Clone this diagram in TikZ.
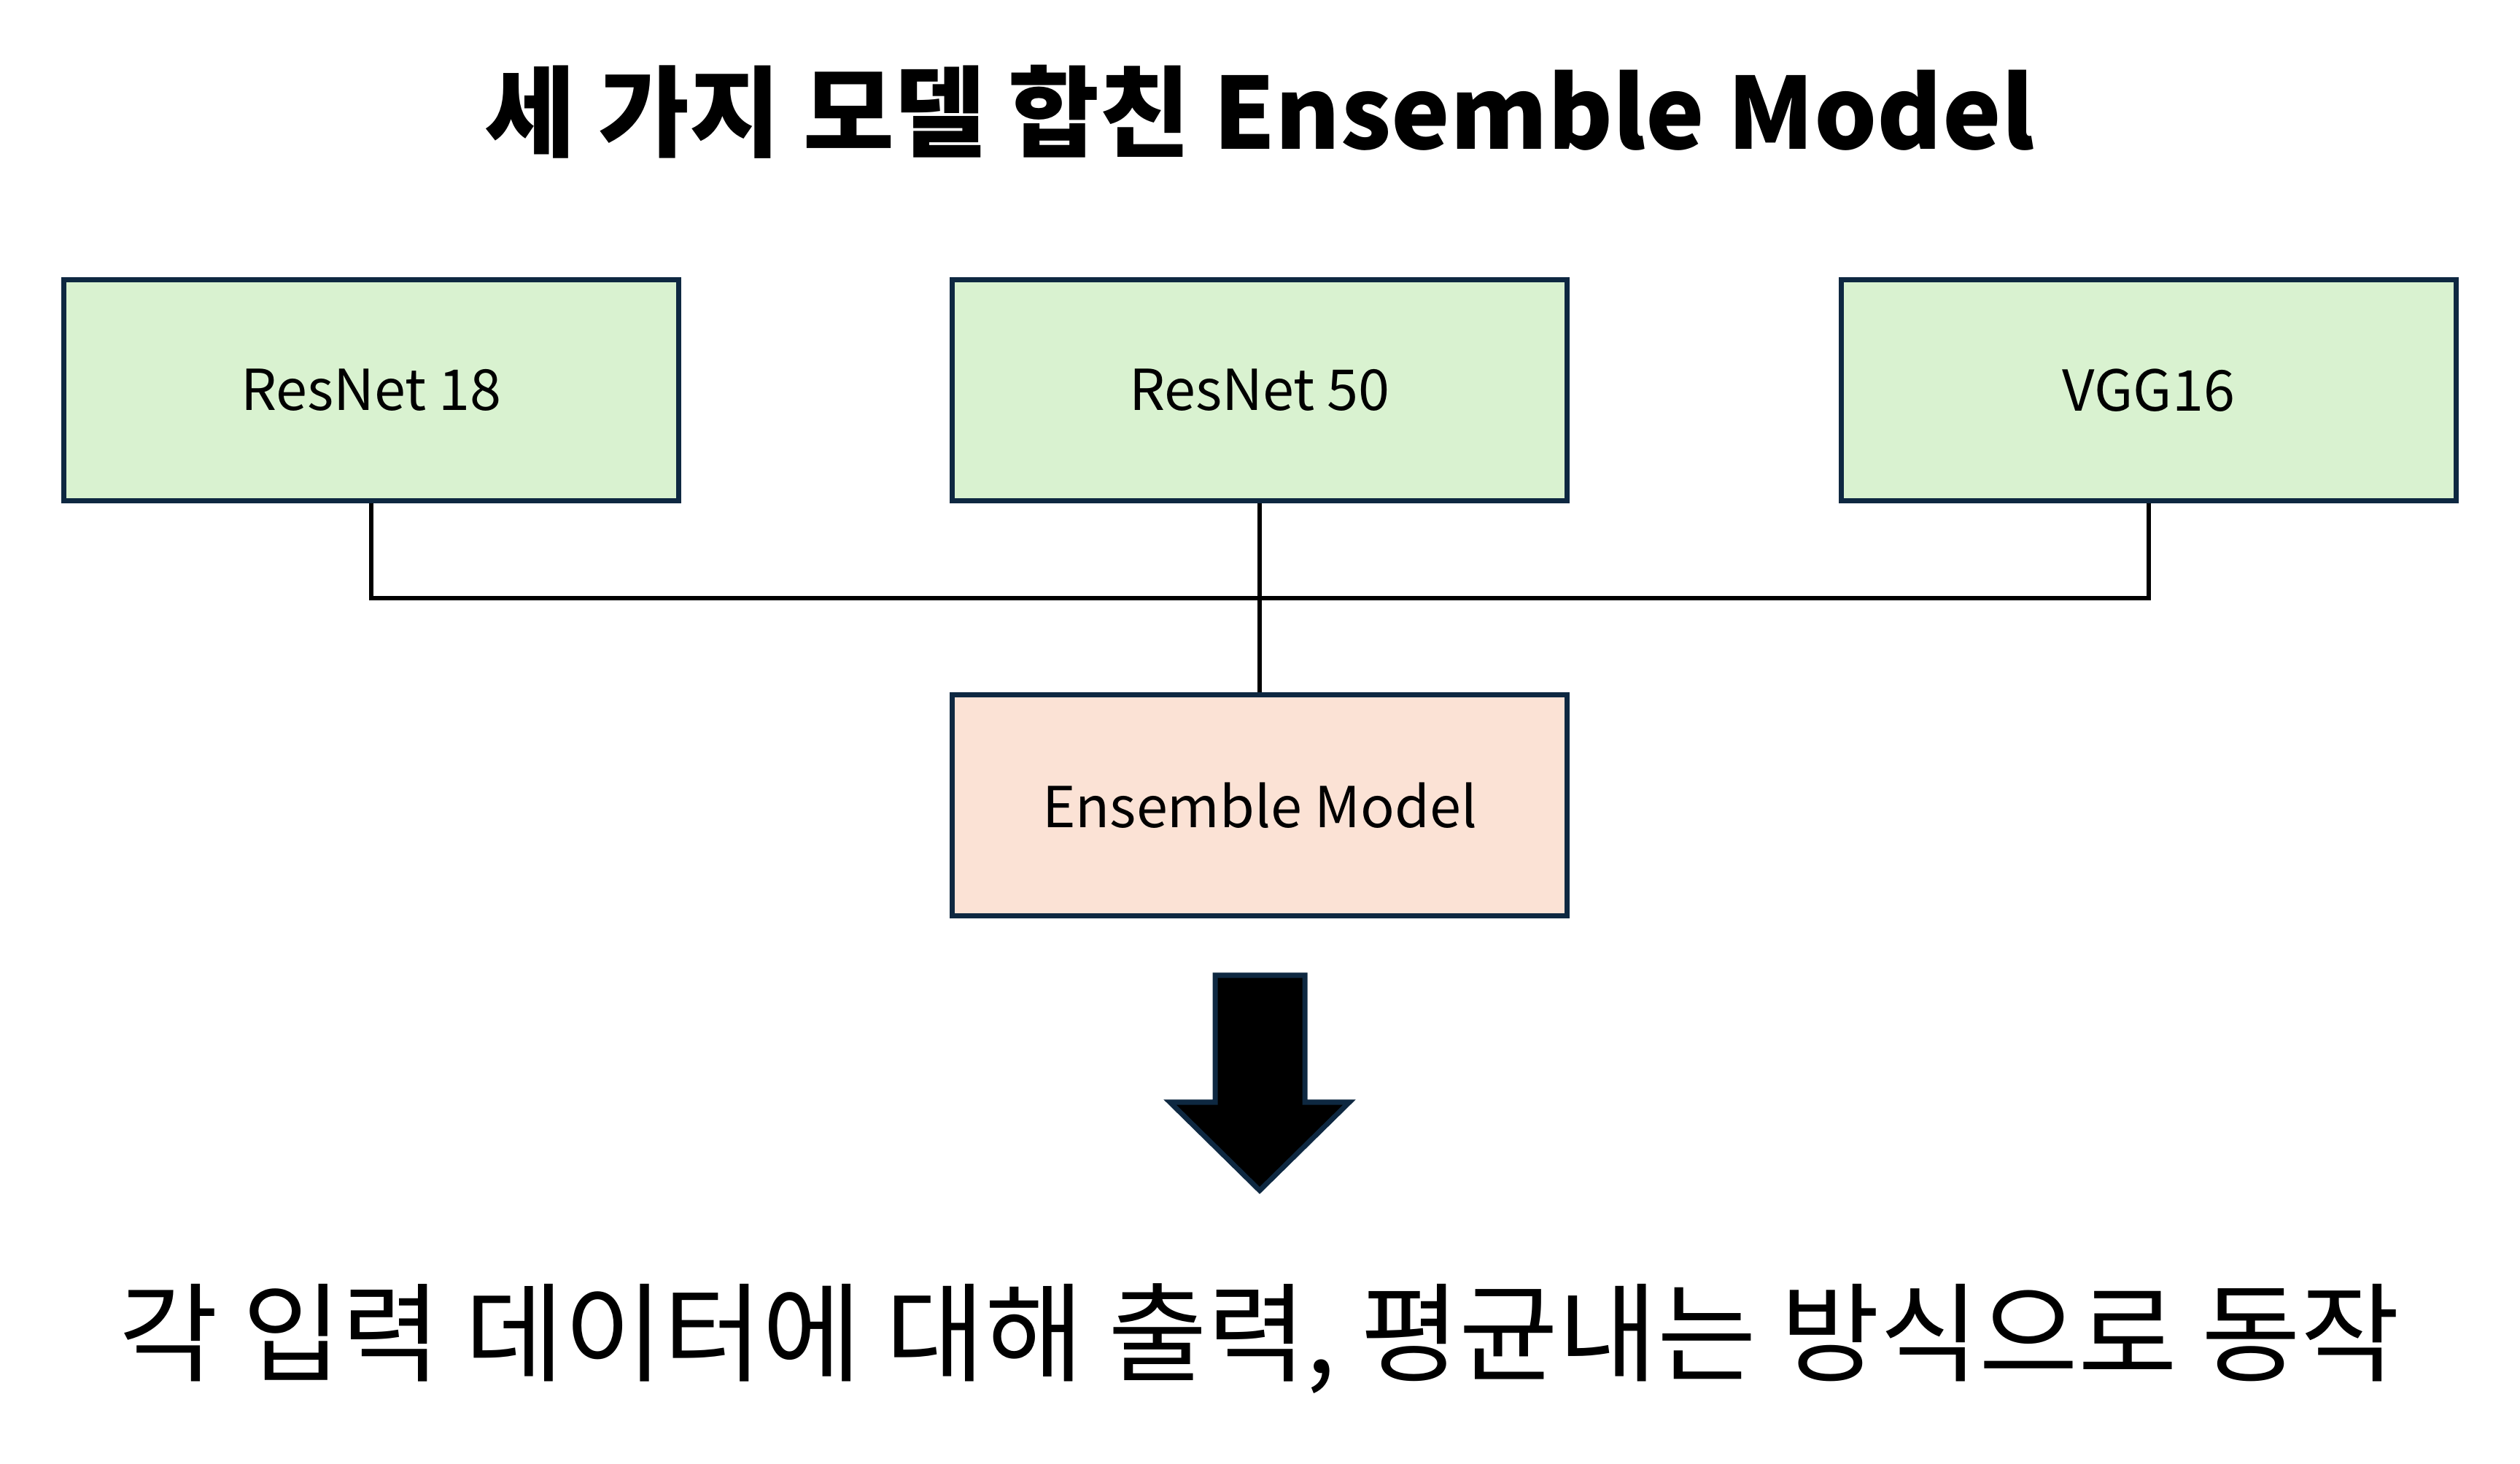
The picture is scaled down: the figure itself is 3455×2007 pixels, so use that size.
\documentclass[tikz,border=0pt]{standalone}
\usepackage{fontspec}
\setmainfont{Noto Sans CJK KR}
\definecolor{edge}{HTML}{0E2841}
\definecolor{greenfill}{HTML}{D9F2D0}
\definecolor{peachfill}{HTML}{FBE2D5}
\begin{document}
\begin{tikzpicture}[x=0.01cm,y=-0.01cm,
  modelbox/.style={draw=edge, line width=2pt, fill=greenfill, minimum width=8.42cm, minimum height=3.02cm, inner sep=0pt, font=\fontsize{22}{26}\selectfont},
  ensbox/.style={modelbox, fill=peachfill},
  wire/.style={draw=black, line width=1.8pt}]
\useasboundingbox (0,0) rectangle (3455,2007);
\node[anchor=base, font=\fontsize{38.6}{46}\selectfont\bfseries] (title) at (1727,205) {세 가지 모델 합친 Ensemble Model};
\node[modelbox] (r18) at (509,535) {ResNet 18};
\node[modelbox] (r50) at (1727,535) {ResNet 50};
\node[modelbox] (vgg) at (2946,535) {VGG16};
\node[ensbox] (ens) at (1727,1104) {Ensemble Model};
\coordinate (bus) at (1727,820);
\draw[wire] (r18.south) |- (bus) -| (vgg.south);
\draw[wire] (r50.south) -- (ens.north);
\draw[draw=edge, fill=black, line width=2pt, line join=miter]
  (1666,1337) -- (1789,1337) -- (1789,1511) -- (1850,1511) -- (1727,1632) -- (1604,1511) -- (1666,1511) -- cycle;
\node[font=\fontsize{42}{50}\selectfont] (caption) at (1727,1835) {각 입력 데이터에 대해 출력, 평균내는 방식으로 동작};
\end{tikzpicture}
\end{document}
